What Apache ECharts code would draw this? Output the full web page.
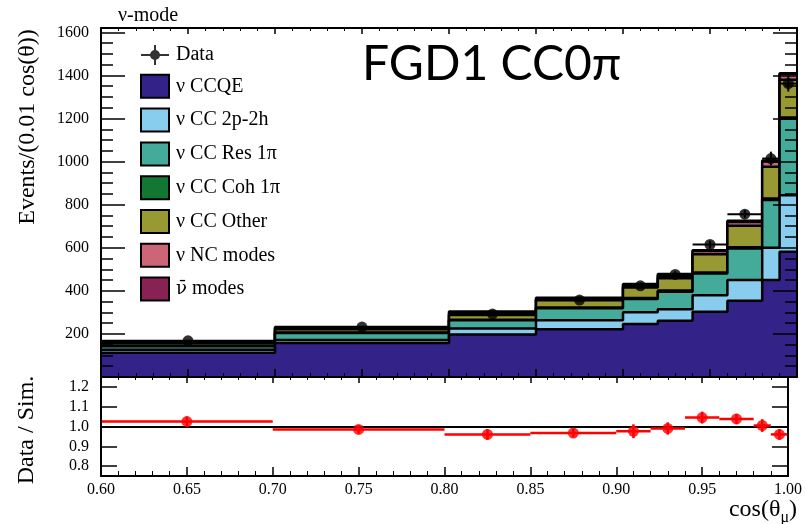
<!DOCTYPE html>
<html>
<head>
<meta charset="utf-8">
<title>FGD1 CC0pi</title>
<script src="https://cdn.jsdelivr.net/npm/echarts@6/dist/echarts.min.js"></script>
<style>
  html, body { margin: 0; padding: 0; background: #fff; }
  #main { width: 805px; height: 524px; }
</style>
</head>
<body>
<div id="main"></div>
<script>
// bin edges in cos(theta_mu)
const binLo = [0.60, 0.70, 0.80, 0.85, 0.90, 0.92, 0.94, 0.96, 0.98, 0.99];
const binHi = [0.70, 0.80, 0.85, 0.90, 0.92, 0.94, 0.96, 0.98, 0.99, 1.00];

// simulation, events per 0.01 cos(theta), one array per mode
const ccqe    = [113, 158, 197, 222, 246, 261, 303, 354, 450, 581];
const cc2p2h  = [14, 14, 28, 42, 54, 53, 77, 96, 150, 263];
const ccRes   = [16, 32, 38, 55, 62, 82, 100, 147, 222, 355];
const ccCoh   = [2, 3, 3, 4, 5, 5, 5, 5, 6, 5];
const ccOther = [12, 15, 22, 33, 48, 57, 85, 100, 148, 176];
const ncModes = [3, 5, 8, 6, 9, 12, 15, 18, 24, 26];
const nubar   = [3, 5, 8, 6, 8, 8, 3, 5, 5, 4];

const layerNames = ["ν CCQE", "ν CC 2p-2h", "ν CC Res 1π", "ν CC Coh 1π", "ν CC Other", "ν NC modes", "ν̄ modes"];
const layerColors = ["#332288", "#88CCEE", "#44AA99", "#117733", "#999933", "#CC6677", "#882255"];
const layers = [ccqe, cc2p2h, ccRes, ccCoh, ccOther, ncModes, nubar];

// data and data / simulation
const dataEvents = [168, 232, 292, 357, 423, 476, 615, 756, 1014, 1362];
const dataErr    = [4, 5, 8, 8, 15, 15, 18, 19, 32, 37];
const ratio      = [1.025, 0.985, 0.96, 0.967, 0.976, 0.99, 1.045, 1.038, 1.005, 0.96];
const ratioErr   = [0.025, 0.022, 0.027, 0.022, 0.035, 0.031, 0.03, 0.026, 0.032, 0.027];

const ratioTicks = [0.8, 0.9, 1.0, 1.1, 1.2];

const chart = echarts.init(document.getElementById("main"));
const serif = "Liberation Serif";

// running sum like a THStack: each layer is drawn from 0 up to its cumulative top
const cumulative = [];
layers.forEach((vals, k) => {
  cumulative.push(vals.map((v, i) => v + (k > 0 ? cumulative[k - 1][i] : 0)));
});

function stepData(vals) {
  const pts = binLo.map((x, i) => [x, vals[i]]);
  pts.push([binHi[binHi.length - 1], vals[vals.length - 1]]);
  return pts;
}

function errorBars(color, width) {
  return function (params, api) {
    const y = api.value(3);
    const lo = api.coord([api.value(0), y]);
    const hi = api.coord([api.value(1), y]);
    const top = api.coord([api.value(2), y + api.value(4)]);
    const bot = api.coord([api.value(2), y - api.value(4)]);
    const st = { stroke: color, lineWidth: width };
    return {
      type: "group",
      children: [
        { type: "line", shape: { x1: lo[0], y1: lo[1], x2: hi[0], y2: hi[1] }, style: st },
        { type: "line", shape: { x1: top[0], y1: top[1], x2: bot[0], y2: bot[1] }, style: st },
      ],
    };
  };
}

const centers = binLo.map((lo, i) => (lo + binHi[i]) / 2);
const dataBars = binLo.map((lo, i) => [lo, binHi[i], centers[i], dataEvents[i], dataErr[i]]);
const ratioBars = binLo.map((lo, i) => [lo, binHi[i], centers[i], ratio[i], ratioErr[i]]);

function xAxisBase(grid, pos, majorLen, minorLen, labels) {
  return {
    type: "value", gridIndex: grid, position: pos, min: 0.6, max: 1.0, interval: 0.05, z: 20,
    axisLine: { show: true, onZero: false, lineStyle: { color: "#000", width: 2 } },
    axisTick: { show: true, inside: true, length: majorLen, lineStyle: { color: "#000", width: 1.5 } },
    minorTick: { show: true, splitNumber: 5, length: minorLen, lineStyle: { color: "#000", width: 1 } },
    axisLabel: labels
      ? { show: true, margin: 6, color: "#000", fontFamily: serif, fontSize: 16, formatter: (v) => v.toFixed(2) }
      : { show: false },
    splitLine: { show: false },
  };
}

function yTopAxis(pos, labels) {
  return {
    type: "value", gridIndex: 0, position: pos, min: 0, max: 1620, interval: 200, z: 20,
    axisLine: { show: true, lineStyle: { color: "#000", width: 2 } },
    axisTick: { show: true, inside: true, length: 24, lineStyle: { color: "#000", width: 1.5 } },
    minorTick: { show: true, splitNumber: 4, length: 12, lineStyle: { color: "#000", width: 1.5 } },
    axisLabel: labels
      ? {
          show: true, margin: 12, color: "#000", fontFamily: serif, fontSize: 16,
          showMinLabel: false, showMaxLabel: false, formatter: (v) => String(v),
        }
      : { show: false },
    splitLine: { show: false },
  };
}

function yRatioAxis(pos, labels) {
  return {
    type: "value", gridIndex: 1, position: pos, min: 0.75, max: 1.25, z: 20,
    axisLine: { show: true, lineStyle: { color: "#000", width: 2 } },
    axisTick: { show: true, inside: true, length: 16, customValues: ratioTicks, lineStyle: { color: "#000", width: 1.5 } },
    axisLabel: labels
      ? { show: true, margin: 12, color: "#000", fontFamily: serif, fontSize: 16, customValues: ratioTicks, formatter: (v) => v.toFixed(1) }
      : { show: false },
    splitLine: { show: false },
  };
}

const dataIcon = "path://M0 9H28V11H0Z M13 0H15V20H13Z M9 10A5 5 0 1 1 19 10A5 5 0 1 1 9 10Z";

const series = cumulative.map((vals, k) => ({
  name: layerNames[k],
  type: "line",
  xAxisIndex: 0, yAxisIndex: 0,
  step: "end",
  symbol: "none",
  z: 10 - k,
  lineStyle: { color: "#000", width: 2.5 },
  itemStyle: { color: layerColors[k] },
  areaStyle: { color: layerColors[k], opacity: 1 },
  data: stepData(vals),
}));

series.push(
  {
    name: "data errors", type: "custom", xAxisIndex: 0, yAxisIndex: 0, z: 29,
    renderItem: errorBars("#000", 2), encode: { x: [0, 1], y: 3 }, data: dataBars,
  },
  {
    name: "Data", type: "scatter", xAxisIndex: 0, yAxisIndex: 0, z: 30,
    symbolSize: 11, itemStyle: { color: "#000" },
    data: centers.map((c, i) => [c, dataEvents[i]]),
  },
  {
    name: "ratio errors", type: "custom", xAxisIndex: 2, yAxisIndex: 2, z: 10,
    renderItem: errorBars("#ff0000", 2.5), encode: { x: [0, 1], y: 3 }, data: ratioBars,
  },
  {
    name: "ratio", type: "scatter", xAxisIndex: 2, yAxisIndex: 2, z: 10,
    symbolSize: 11, itemStyle: { color: "#ff0000" },
    data: centers.map((c, i) => [c, ratio[i]]),
    markLine: {
      silent: true, symbol: "none", label: { show: false },
      lineStyle: { color: "#000", width: 2, type: "solid" },
      data: [{ yAxis: 1.0 }],
    },
  }
);

// subscript axis title pieces
const mctx = document.createElement("canvas").getContext("2d");
mctx.font = '24px "Liberation Serif"';
const wCos = mctx.measureText("cos(θ").width;
const wClose = mctx.measureText(")").width;
mctx.font = '16px "Liberation Serif"';
const wMu = mctx.measureText("μ").width;
const titleRight = 797;
const titleLeft = titleRight - wClose - wMu - wCos;

chart.setOption({
  animation: false,
  backgroundColor: "#fff",
  grid: [
    { left: 101, right: 8, top: 28, height: 349 },
    { left: 101, right: 8, top: 377, height: 99 },
  ],
  xAxis: [
    xAxisBase(0, "bottom", 8, 4, false),
    xAxisBase(0, "top", 6, 3, false),
    xAxisBase(1, "bottom", 9, 5, true),
    xAxisBase(1, "top", 6, 3, false),
  ],
  yAxis: [yTopAxis("left", true), yTopAxis("right", false), yRatioAxis("left", true), yRatioAxis("right", false)],
  legend: {
    orient: "vertical", left: 140, top: 45, padding: 0,
    itemWidth: 28, itemHeight: 23, itemGap: 8.8,
    selectedMode: false,
    textStyle: {
      fontFamily: serif, fontSize: 20, color: "#000", padding: [0, 0, 0, 2],
      rich: { bar: { fontFamily: "DejaVu Serif", fontSize: 18, color: "#000" } },
    },
    formatter: (name) => (name === "ν̄ modes" ? "{bar|ν̄} modes" : name),
    data: [{ name: "Data", icon: dataIcon, itemStyle: { color: "#000", borderWidth: 0 } }].concat(
      layerNames.map((n, i) => ({
        name: n, icon: "rect",
        itemStyle: { color: layerColors[i], borderColor: "#000", borderWidth: 2 },
      }))
    ),
  },
  graphic: [
    { type: "text", x: 118, y: 16, style: { text: "ν-mode", font: '20px "Liberation Serif"', fill: "#000", verticalAlign: "middle" } },
    { type: "text", x: 362, y: 65, style: { text: "FGD1 CC0π", font: '48px Lato', fill: "#000", verticalAlign: "middle" } },
    {
      type: "text", x: 28, y: 127, rotation: Math.PI / 2,
      style: { text: "Events/(0.01 cos(θ))", font: '24px "Liberation Serif"', fill: "#000", align: "center", verticalAlign: "middle" },
    },
    {
      type: "text", x: 27, y: 430, rotation: Math.PI / 2,
      style: { text: "Data / Sim.", font: '24px "Liberation Serif"', fill: "#000", align: "center", verticalAlign: "middle" },
    },
    { type: "text", x: titleLeft, y: 510, style: { text: "cos(θ", font: '24px "Liberation Serif"', fill: "#000", verticalAlign: "middle" } },
    { type: "text", x: titleLeft + wCos, y: 518, style: { text: "μ", font: '16px "Liberation Serif"', fill: "#000", verticalAlign: "middle" } },
    { type: "text", x: titleLeft + wCos + wMu, y: 510, style: { text: ")", font: '24px "Liberation Serif"', fill: "#000", verticalAlign: "middle" } },
  ],
  series: series,
});
</script>
</body>
</html>
